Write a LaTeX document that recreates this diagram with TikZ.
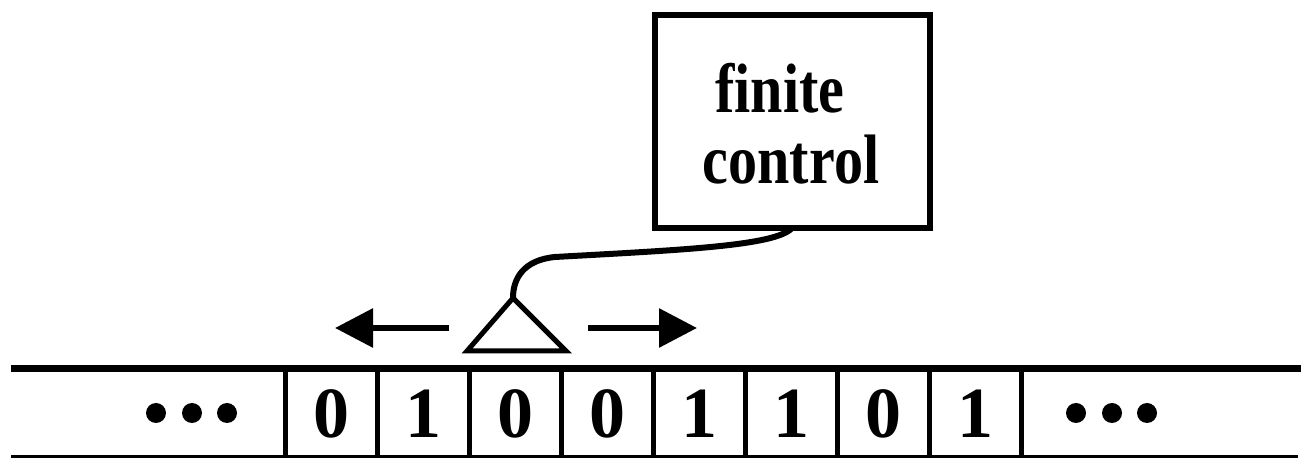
\documentclass[tikz,border=0pt]{standalone}
\usepackage{fontspec}
\setmainfont{Liberation Serif}
\newfontfamily\labfont[FakeStretch=0.83]{Liberation Serif}
\usetikzlibrary{arrows.meta}
\begin{document}
\begin{tikzpicture}[x=0.5pt,y=-0.5pt,
  tapeedge/.style={line width=3.5pt},
  tapebottom/.style={line width=1.5pt},
  cellwall/.style={line width=2.5pt},
  symb/.style={inner sep=0pt,font=\fontsize{36}{40}\selectfont\bfseries},
  boxlabel/.style={inner sep=0pt,anchor=base,font=\labfont\fontsize{35}{37}\selectfont\bfseries},
  controlbox/.style={draw,line width=3pt,minimum width=137.5pt,minimum height=106.5pt,inner sep=0pt},
  tapedot/.style={circle,fill,inner sep=0pt,minimum size=10pt},
  movearrow/.style={line width=3pt,-{Triangle[length=19pt,width=19pt]}},
  headshape/.style={line width=2.5pt,line join=miter},
  wire/.style={line width=3pt}]
\useasboundingbox (0,0) rectangle (1306,458);
% tape
\draw[tapeedge] (11,369) -- (1301,369);
\draw[tapebottom] (11,457) -- (1298,457);
\foreach \i in {0,...,8}{
  \draw[cellwall] (285+92*\i,369) -- (285+92*\i,457);
}
\foreach \s [count=\k from 0] in {0,1,0,0,1,1,0,1}{
  \node[symb] (c\k) at (331+92*\k,414) {\s};
}
% dots
\node[tapedot] (l1) at (156,413) {};
\node[tapedot] (l2) at (192,413) {};
\node[tapedot] (l3) at (227,413) {};
\node[tapedot] (r1) at (1076,413) {};
\node[tapedot] (r2) at (1112,413) {};
\node[tapedot] (r3) at (1147,413) {};
% control box
\node[controlbox] (fc) at (792.5,121.5) {};
\node[boxlabel] (fin) at (780,113) {finite};
\node[boxlabel] (ctl) at (791,184) {control};
% head
\coordinate (apex) at (513,298);
\coordinate (bl) at (467,351);
\coordinate (br) at (566,351);
\draw[headshape] (apex) -- (bl) -- (br) -- cycle;
% wire
\coordinate (wmid) at (555,257);
\coordinate (wend) at (792,228);
\draw[wire] (apex) .. controls (513,278) and (524,260) .. (wmid)
  .. controls (680,250) and (776,246) .. (wend);
% arrows
\coordinate (las) at (449,328);
\coordinate (lat) at (335,328);
\coordinate (ras) at (588,328);
\coordinate (rat) at (697,328);
\draw[movearrow] (las) -- (lat);
\draw[movearrow] (ras) -- (rat);
\end{tikzpicture}
\end{document}
